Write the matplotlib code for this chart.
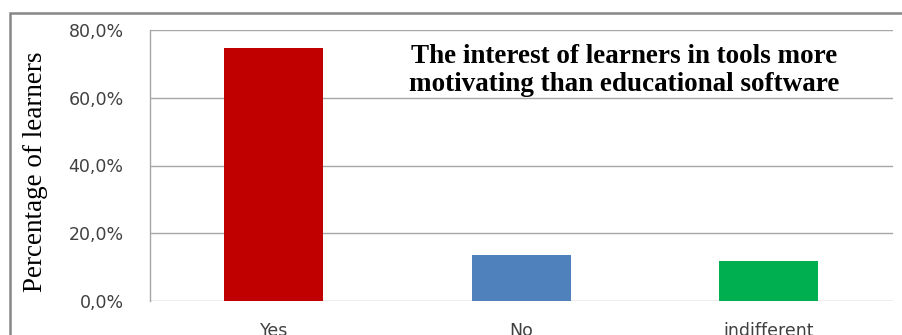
import matplotlib.pyplot as plt
from matplotlib.patches import Rectangle
from matplotlib.ticker import FuncFormatter

# survey answers
categories = ["Yes", "No", "indifferent"]
shares = [74.6, 13.5, 11.9]
bar_colors = ["#C00000", "#4F81BD", "#00B050"]
y_ticks = [0, 20, 40, 60, 80]

title = "The interest of learners in tools more\nmotivating than educational software"

fig = plt.figure(figsize=(9.03, 3.35), dpi=100)

# chart frame (runs off the right and bottom edge)
fig.patches.append(Rectangle((10 / 903, -0.1), 1.0, (335 - 13) / 335 + 0.1,
                             transform=fig.transFigure, fill=False,
                             edgecolor="#868686", linewidth=1.8))

ax = fig.add_axes([150 / 903, 1 - 301 / 335, (892.7 - 150) / 903, (301 - 30) / 335])
ax.bar(range(len(categories)), shares, width=0.4, color=bar_colors, zorder=3)

ax.set_xlim(-0.5, len(categories) - 0.5)
ax.set_ylim(0, 80)
ax.set_yticks(y_ticks)
ax.yaxis.set_major_formatter(FuncFormatter(lambda v, p: ("%.1f%%" % v).replace(".", ",")))
ax.set_xticks(range(len(categories)))
ax.set_xticklabels(categories)
ax.grid(axis="y", color="#A6A6A6", linewidth=1.0, zorder=0)
ax.set_axisbelow(True)

for side in ["right", "top", "bottom"]:
    ax.spines[side].set_visible(False)
ax.spines["left"].set_color("#A6A6A6")
ax.spines["left"].set_linewidth(1.0)
ax.tick_params(length=0, labelsize=12.5, labelcolor="#404040")
ax.tick_params(axis="y", pad=19)
ax.tick_params(axis="x", pad=15)

ax.text(0.638, 0.85, title, transform=ax.transAxes, ha="center", va="center",
        family="Liberation Serif", fontweight="bold", fontsize=19.5, linespacing=1.13)

fig.text(36 / 903, 1 - 172 / 335, "Percentage of learners", rotation=90,
         ha="center", va="center", family="Liberation Serif", fontsize=19.5)

fig.savefig("out.png", dpi=100)
